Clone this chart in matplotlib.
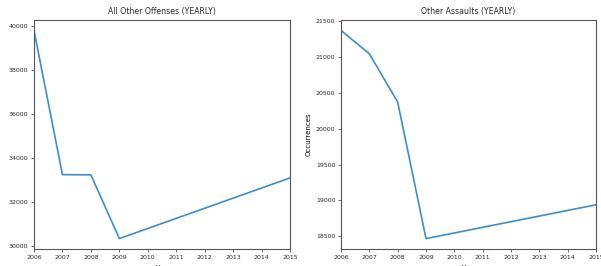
import matplotlib
matplotlib.use("Agg")
import matplotlib.pyplot as plt

# yearly counts
years_offenses = [2006, 2007, 2008, 2009, 2015]
other_offenses = [39780, 33240, 33230, 30340, 33090]

years_assaults = [2006, 2007, 2008, 2009, 2015]
other_assaults = [21365, 21040, 20370, 18470, 18940]

xticks = list(range(2006, 2016))

plt.rcParams['font.size'] = 4.5
plt.rcParams['text.color'] = '#2a2a2a'
plt.rcParams['axes.edgecolor'] = '#555555'
plt.rcParams['xtick.color'] = '#555555'
plt.rcParams['ytick.color'] = '#555555'
plt.rcParams['xtick.labelcolor'] = '#2a2a2a'
plt.rcParams['ytick.labelcolor'] = '#2a2a2a'

W, H = 601, 266
fig = plt.figure(figsize=(W / 100, H / 100), dpi=100)


def make_axes(x0, x1, top, bottom):
    return fig.add_axes([x0 / W, 1 - bottom / H, (x1 - x0) / W, (bottom - top) / H])


def draw_panel(ax, years, values, title, labelpad):
    ax.plot(years, values, color='#3b8ed0', linewidth=1.2)
    ax.set_xlim(2006, 2015)
    ax.margins(x=0, y=0.05)
    ax.set_xticks(xticks)
    ax.set_title(title, fontsize=5.6, pad=4)
    ax.set_xlabel('Year', fontsize=5)
    ax.set_ylabel('Occurrences', fontsize=5, labelpad=labelpad)
    ax.tick_params(length=2.5, width=0.6, pad=1.5)
    for s in ax.spines.values():
        s.set_linewidth(0.8)


ax1 = make_axes(34, 290, 20, 249)
draw_panel(ax1, years_offenses, other_offenses, 'All Other Offenses (YEARLY)', 8)

ax2 = make_axes(341, 596, 20, 249)
draw_panel(ax2, years_assaults, other_assaults, 'Other Assaults (YEARLY)', 3)

fig.savefig('out.png', dpi=100)
